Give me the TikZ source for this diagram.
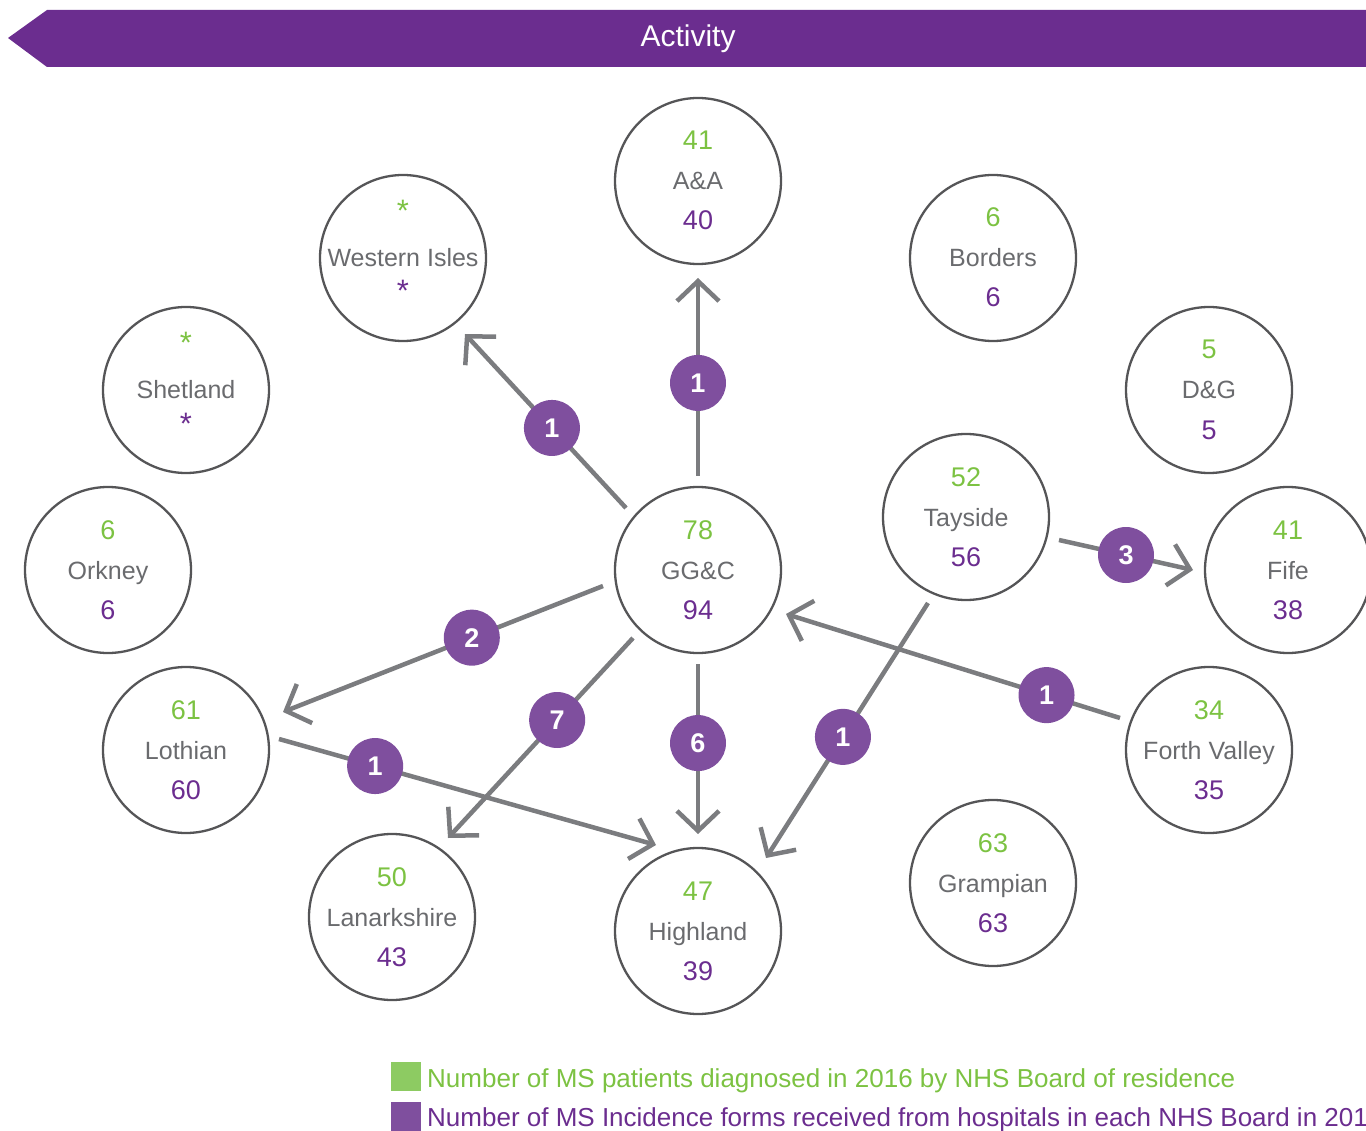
\documentclass[tikz,border=0pt]{standalone}
\usepackage{fontspec}
\setmainfont{Liberation Sans}
\usetikzlibrary{arrows.meta}
\definecolor{hdr}{HTML}{6B2D8F}
\definecolor{badge}{HTML}{7F4F9E}
\definecolor{numg}{HTML}{7CC242}
\definecolor{nump}{HTML}{6B2D8F}
\definecolor{legg}{HTML}{8DCB62}
\definecolor{legp}{HTML}{7F4F9E}
\definecolor{ring}{HTML}{555557}
\definecolor{txt}{HTML}{6A6B6E}
\definecolor{arr}{HTML}{7B7C7F}
\tikzset{
  region/.style={circle,draw=ring,line width=2.3pt,minimum size=166pt,inner sep=0pt},
  topnum/.style={anchor=base,text=numg,font=\fontsize{27}{27}\selectfont},
  botnum/.style={anchor=base,text=nump,font=\fontsize{27}{27}\selectfont},
  rname/.style={anchor=base,text=txt,font=\fontsize{25}{25}\selectfont},
  flow/.style={draw=arr,line width=4.5pt,-{Straight Barb[length=20pt,width=42pt,line width=4.5pt]}},
  badgenode/.style={circle,fill=badge,minimum size=56pt,inner sep=0pt,text=white,font=\fontsize{27}{27}\selectfont\bfseries},
}
\newcommand{\region}[5]{%
  \node[region] (#1) at (#2) {};
  \node[topnum] (#1-t) at ([yshift=31pt]#1.center) {#4};
  \node[rname] (#1-n) at ([yshift=-9pt]#1.center) {#3};
  \node[botnum] (#1-b) at ([yshift=-49pt]#1.center) {#5};
}
\newcommand{\myast}{\raisebox{5pt}{\fontsize{31}{31}\selectfont *}}
\begin{document}
\begin{tikzpicture}[x=1pt,y=-1pt]
\useasboundingbox (0,0) rectangle (1366,1131);
\clip (0,0) rectangle (1366,1131);
% header
\fill[hdr] (8,38) -- (47,10) -- (1366,10) -- (1366,67) -- (47,67) -- cycle;
\node[anchor=base,text=white,font=\fontsize{30}{30}\selectfont] (title) at (688,47) {Activity};
% regions
\region{aa}{698,181}{A\&A}{41}{40}
\region{wi}{403,258}{Western Isles}{\myast}{\myast}
\region{bo}{993,258}{Borders}{6}{6}
\region{sh}{186,390}{Shetland}{\myast}{\myast}
\region{dg}{1209,390}{D\&G}{5}{5}
\region{or}{108,570}{Orkney}{6}{6}
\region{gg}{698,570}{GG\&C}{78}{94}
\region{ta}{966,517}{Tayside}{52}{56}
\region{fi}{1288,570}{Fife}{41}{38}
\region{lo}{186,750}{Lothian}{61}{60}
\region{fv}{1209,750}{Forth Valley}{34}{35}
\region{la}{392,917}{Lanarkshire}{50}{43}
\region{hi}{698,931}{Highland}{47}{39}
\region{gr}{993,883}{Grampian}{63}{63}
% connector end points
\coordinate (gg-wi) at (626,508);  \coordinate (wi-in) at (465,334);
\coordinate (gg-aa) at (698,476);  \coordinate (aa-in) at (698,278);
\coordinate (gg-lo) at (603,586);  \coordinate (lo-in) at (283,712);
\coordinate (gg-la) at (633,638);  \coordinate (la-in) at (448,838);
\coordinate (gg-hi) at (698,664);  \coordinate (hi-in1) at (698,834);
\coordinate (lo-hi) at (279,739);  \coordinate (hi-in2) at (656,845);
\coordinate (ta-fi) at (1059,540); \coordinate (fi-in) at (1193,570);
\coordinate (ta-hi) at (928,603);  \coordinate (hi-in3) at (766,858);
\coordinate (fv-gg) at (1120,718); \coordinate (gg-in) at (786,614);
% flows
\draw[flow] (gg-wi) -- node[badgenode,pos=0.46] (b1) {1} (wi-in);
\draw[flow] (gg-aa) -- node[badgenode,pos=0.47] (b2) {1} (aa-in);
\draw[flow] (gg-lo) -- node[badgenode,pos=0.41] (b3) {2} (lo-in);
\draw[flow] (gg-la) -- node[badgenode,pos=0.41] (b4) {7} (la-in);
\draw[flow] (gg-hi) -- node[badgenode,pos=0.465] (b5) {6} (hi-in1);
\draw[flow] (lo-hi) -- node[badgenode,pos=0.255] (b6) {1} (hi-in2);
\draw[flow] (ta-fi) -- node[badgenode,pos=0.5] (b7) {3} (fi-in);
\draw[flow] (ta-hi) -- node[badgenode,pos=0.525] (b8) {1} (hi-in3);
\draw[flow] (fv-gg) -- node[badgenode,pos=0.22] (b9) {1} (gg-in);
% legend
\fill[legg] (391,1062) rectangle (421,1091);
\fill[legp] (391,1102) rectangle (421,1135);
\node[anchor=base west,inner sep=0pt,text=numg,font=\fontsize{26}{26}\selectfont] (leg1) at (427,1087) {Number of MS patients diagnosed in 2016 by NHS Board of residence};
\node[anchor=base west,inner sep=0pt,text=nump,font=\fontsize{26}{26}\selectfont] (leg2) at (427,1126) {Number of MS Incidence forms received from hospitals in each NHS Board in 2016};
\end{tikzpicture}
\end{document}
